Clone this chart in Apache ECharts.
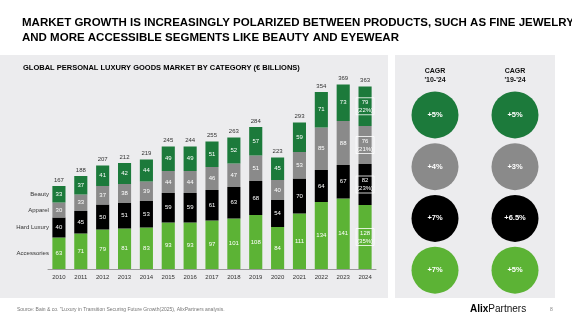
<!DOCTYPE html>
<html>
<head>
<meta charset="utf-8">
<script src="https://cdn.jsdelivr.net/npm/echarts@6/dist/echarts.min.js"></script>
<style>
  html, body { margin: 0; padding: 0; background: #fff; }
  #chart { width: 572px; height: 322px; }
</style>
</head>
<body>
<div id="chart"></div>
<script>
// Global personal luxury goods market by category (€ billions)
const years = ['2010','2011','2012','2013','2014','2015','2016','2017','2018','2019','2020','2021','2022','2023','2024'];
const accessories = [63, 71, 79, 81, 83, 93, 93, 97, 101, 108, 84, 111, 134, 141, 128];
const hardLuxury  = [40, 45, 50, 51, 53, 59, 59, 61, 63, 68, 54, 70, 64, 67, 82];
const apparel     = [30, 33, 37, 38, 39, 44, 44, 46, 47, 51, 40, 53, 85, 88, 76];
const beauty      = [33, 37, 41, 42, 44, 49, 49, 51, 52, 57, 45, 59, 71, 73, 79];
const totals      = [167, 188, 207, 212, 219, 245, 244, 255, 263, 284, 223, 293, 354, 369, 363];
const share2024   = { accessories: '35%', hardLuxury: '23%', apparel: '21%', beauty: '22%' };

// Compound annual growth rates, rows: Beauty, Apparel, Hard Luxury, Accessories
const cagrHeaders = ["CAGR\n'10-'24", "CAGR\n'19-'24"];
const cagr1024 = ['+5%', '+4%', '+7%', '+7%'];
const cagr1924 = ['+5%', '+3%', '+6.5%', '+5%'];
const segmentNames = ['Beauty', 'Apparel', 'Hard Luxury', 'Accessories'];

const C_BEAUTY = '#1c7a3b';
const C_APPAREL = '#8a8a8a';
const C_HARD = '#000000';
const C_ACC = '#5cb335';
const rowColors = [C_BEAUTY, C_APPAREL, C_HARD, C_ACC];
const FONT = '"Liberation Sans", Arial, sans-serif';

const chart = echarts.init(document.getElementById('chart'), null, { renderer: 'canvas' });

function segData(values, share) {
  return values.map((v, i) => {
    if (i !== values.length - 1) return v;
    return {
      value: v,
      label: {
        formatter: '{c}\n(' + share + ')',
        borderColor: '#ffffff',
        borderWidth: 0.8,
        padding: [1, 1, 0, 1],
        lineHeight: 8
      }
    };
  });
}

function barSeries(name, values, color, share) {
  return {
    name: name,
    type: 'bar',
    stack: 'market',
    xAxisIndex: 0,
    yAxisIndex: 0,
    barWidth: '60%',
    itemStyle: { color: color },
    label: {
      show: true,
      position: 'inside',
      color: '#ffffff',
      fontSize: 6,
      fontFamily: FONT
    },
    data: segData(values, share)
  };
}

const circleData = [];
[cagr1024, cagr1924].forEach((col, ci) => {
  col.forEach((txt, ri) => {
    circleData.push({
      value: [ci, ri],
      label: { formatter: txt },
      itemStyle: { color: rowColors[ri], opacity: 1 }
    });
  });
});

const option = {
  animation: false,
  backgroundColor: '#ffffff',
  textStyle: { fontFamily: FONT },
  title: [
    {
      text: 'MARKET GROWTH IS INCREASINGLY POLARIZED BETWEEN PRODUCTS, SUCH AS FINE JEWELRY,\nAND MORE ACCESSIBLE SEGMENTS LIKE BEAUTY AND EYEWEAR',
      left: 17, top: 10,
      textStyle: { fontSize: 11.5, fontWeight: 'bold', color: '#000', lineHeight: 15, fontFamily: FONT }
    },
    {
      text: 'GLOBAL PERSONAL LUXURY GOODS MARKET BY CATEGORY (€ BILLIONS)',
      left: 18, top: 59,
      textStyle: { fontSize: 7.5, fontWeight: 'bold', color: '#000', fontFamily: FONT }
    }
  ],
  graphic: [
    { type: 'rect', z: -10, shape: { x: 0, y: 55, width: 388, height: 243 }, style: { fill: '#ececee' } },
    { type: 'rect', z: -10, shape: { x: 395, y: 55, width: 160, height: 243 }, style: { fill: '#ececee' } },
    { type: 'text', left: 17, top: 307, style: { text: 'Source: Bain & co. "Luxury in Transition Securing Future Growth(2025), AlixPartners analysis.', fontSize: 5, fill: '#777', fontFamily: FONT } },
    { type: 'text', left: 470, top: 304, style: { text: '{b|Alix}{n|Partners}', rich: { b: { fontSize: 10, fontWeight: 'bold', fill: '#000', fontFamily: FONT }, n: { fontSize: 10, fill: '#111', fontFamily: FONT } } } },
    { type: 'text', left: 550, top: 307, style: { text: '8', fontSize: 5, fill: '#888', fontFamily: FONT } }
  ],
  grid: [
    { left: 48, width: 328, top: 69, bottom: 53 },
    { left: 395, width: 160, top: 89, bottom: 26 }
  ],
  xAxis: [
    {
      type: 'category', gridIndex: 0, data: years,
      axisLine: { lineStyle: { color: '#9a9a9a', width: 1 } },
      axisTick: { show: false },
      axisLabel: { fontSize: 6, color: '#333', margin: 5, fontFamily: FONT }
    },
    {
      type: 'category', gridIndex: 1, data: cagrHeaders, position: 'top',
      axisLine: { show: false }, axisTick: { show: false },
      axisLabel: { fontSize: 7, fontWeight: 'bold', color: '#111', margin: 4, lineHeight: 9, fontFamily: FONT }
    }
  ],
  yAxis: [
    { type: 'value', gridIndex: 0, min: 0, max: 400, show: false },
    { type: 'category', gridIndex: 1, data: segmentNames, inverse: true, show: false }
  ],
  series: [
    barSeries('Accessories', accessories, C_ACC, share2024.accessories),
    barSeries('Hard Luxury', hardLuxury, C_HARD, share2024.hardLuxury),
    barSeries('Apparel', apparel, C_APPAREL, share2024.apparel),
    barSeries('Beauty', beauty, C_BEAUTY, share2024.beauty),
    {
      name: 'Total',
      type: 'bar',
      stack: 'market',
      xAxisIndex: 0, yAxisIndex: 0,
      itemStyle: { color: 'transparent' },
      data: years.map(() => 0),
      label: {
        show: true, position: 'top', distance: 3,
        fontSize: 6, color: '#333', fontFamily: FONT,
        formatter: p => String(totals[p.dataIndex])
      }
    },
    {
      name: 'CAGR',
      type: 'scatter',
      xAxisIndex: 1, yAxisIndex: 1,
      symbol: 'circle',
      symbolSize: 47,
      itemStyle: { opacity: 1 },
      label: {
        show: true, position: 'inside', color: '#fff',
        fontSize: 7.5, fontWeight: 'bold', fontFamily: FONT
      },
      data: circleData
    }
  ]
};

chart.setOption(option);

// Segment names to the left of the first bar, centred on each segment
const firstStack = [accessories[0], hardLuxury[0], apparel[0], beauty[0]];
const names = ['Accessories', 'Hard Luxury', 'Apparel', 'Beauty'];
let base = 0;
const nameLabels = firstStack.map((v, i) => {
  const mid = base + v / 2;
  base += v;
  const pt = chart.convertToPixel({ gridIndex: 0 }, [0, mid]);
  return {
    type: 'text',
    x: pt[0] - 10,
    y: pt[1],
    style: { text: names[i], fontSize: 6, fill: '#333', align: 'right', verticalAlign: 'middle', fontFamily: FONT }
  };
});
chart.setOption({ graphic: option.graphic.concat(nameLabels) });
</script>
</body>
</html>
